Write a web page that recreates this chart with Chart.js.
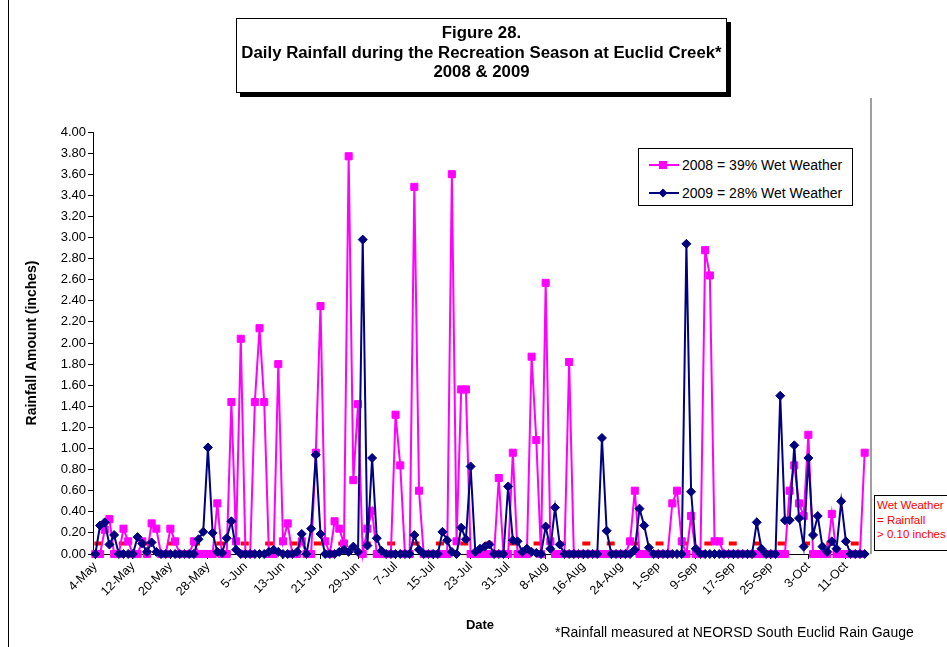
<!DOCTYPE html>
<html>
<head>
<meta charset="utf-8">
<title>Figure 28 - Daily Rainfall, Euclid Creek</title>
<script src="https://cdn.jsdelivr.net/npm/chart.js@4.4.0/dist/chart.umd.min.js"></script>
<style>
  body { margin: 0; background: #fff; font-family: "Liberation Sans", Arial, sans-serif; }
  #wrap { position: relative; width: 947px; height: 647px; overflow: hidden; }
  #frame { position: absolute; left: 8px; top: 0; width: 0; height: 647px; border-left: 1px solid #000; }
  #titleBox {
    position: absolute; left: 236px; top: 18px; width: 489px; height: 69px;
    border: 1px solid #000; box-shadow: 4px 4px 0 #000; background: #fff;
    font-weight: bold; font-size: 16.8px; line-height: 19.5px; text-align: center;
    padding-top: 4px; box-sizing: content-box; white-space: nowrap;
  }
  #legendBox {
    position: absolute; left: 638px; top: 148px; width: 213px; height: 56px;
    border: 1px solid #000; background: #fff; font-size: 14px;
  }
  .legRow { position: absolute; left: 10px; height: 16px; line-height: 16px; white-space: nowrap; }
  .legRow svg { vertical-align: top; }
  .legRow span { position: absolute; left: 33px; top: 0; }
  #noteBox {
    position: absolute; left: 874px; top: 495px; width: 90px; height: 56px;
    border: 1px solid #000; background: #fff; color: #FF0000;
    font-size: 11.5px; line-height: 14.5px; padding: 2px 0 0 2px; box-sizing: border-box;
  }
  #footnote { position: absolute; left: 555px; top: 624px; font-size: 14px; line-height: 17px; white-space: nowrap; }
</style>
</head>
<body>
<div id="wrap">
  <canvas id="rainChart" width="947" height="647"></canvas>
  <div id="frame"></div>
  <div id="titleBox">Figure 28.<br>Daily Rainfall during the Recreation Season at Euclid Creek*<br>2008 &amp; 2009</div>
  <div id="legendBox">
    <div class="legRow" style="top:8px">
      <svg width="30" height="16"><line x1="0" y1="8" x2="30" y2="8" stroke="#FF00FF" stroke-width="2"/><rect x="10" y="4" width="8" height="8" fill="#FF00FF"/></svg>
      <span>2008 = 39% Wet Weather</span>
    </div>
    <div class="legRow" style="top:36px">
      <svg width="30" height="16"><line x1="0" y1="8" x2="30" y2="8" stroke="#000080" stroke-width="2"/><polygon points="14,3.5 18.5,8 14,12.5 9.5,8" fill="#000080"/></svg>
      <span>2009 = 28% Wet Weather</span>
    </div>
  </div>
  <div id="noteBox">Wet Weather<br>= Rainfall<br>&gt; 0.10 inches</div>
  <div id="footnote">*Rainfall measured at NEORSD South Euclid Rain Gauge</div>
</div>

<script>
// ------------------------------------------
// Data (inches per day)
// ------------------------------------------

const dateLabels = [
  '4-May', '5-May', '6-May', '7-May', '8-May', '9-May', '10-May', '11-May', '12-May', '13-May',
  '14-May', '15-May', '16-May', '17-May', '18-May', '19-May', '20-May', '21-May', '22-May', '23-May',
  '24-May', '25-May', '26-May', '27-May', '28-May', '29-May', '30-May', '31-May',
  '1-Jun', '2-Jun', '3-Jun', '4-Jun', '5-Jun', '6-Jun', '7-Jun', '8-Jun', '9-Jun', '10-Jun',
  '11-Jun', '12-Jun', '13-Jun', '14-Jun', '15-Jun', '16-Jun', '17-Jun', '18-Jun', '19-Jun', '20-Jun',
  '21-Jun', '22-Jun', '23-Jun', '24-Jun', '25-Jun', '26-Jun', '27-Jun', '28-Jun', '29-Jun', '30-Jun',
  '1-Jul', '2-Jul', '3-Jul', '4-Jul', '5-Jul', '6-Jul', '7-Jul', '8-Jul', '9-Jul', '10-Jul',
  '11-Jul', '12-Jul', '13-Jul', '14-Jul', '15-Jul', '16-Jul', '17-Jul', '18-Jul', '19-Jul', '20-Jul',
  '21-Jul', '22-Jul', '23-Jul', '24-Jul', '25-Jul', '26-Jul', '27-Jul', '28-Jul', '29-Jul', '30-Jul', '31-Jul',
  '1-Aug', '2-Aug', '3-Aug', '4-Aug', '5-Aug', '6-Aug', '7-Aug', '8-Aug', '9-Aug', '10-Aug',
  '11-Aug', '12-Aug', '13-Aug', '14-Aug', '15-Aug', '16-Aug', '17-Aug', '18-Aug', '19-Aug', '20-Aug',
  '21-Aug', '22-Aug', '23-Aug', '24-Aug', '25-Aug', '26-Aug', '27-Aug', '28-Aug', '29-Aug', '30-Aug', '31-Aug',
  '1-Sep', '2-Sep', '3-Sep', '4-Sep', '5-Sep', '6-Sep', '7-Sep', '8-Sep', '9-Sep', '10-Sep',
  '11-Sep', '12-Sep', '13-Sep', '14-Sep', '15-Sep', '16-Sep', '17-Sep', '18-Sep', '19-Sep', '20-Sep',
  '21-Sep', '22-Sep', '23-Sep', '24-Sep', '25-Sep', '26-Sep', '27-Sep', '28-Sep', '29-Sep', '30-Sep',
  '1-Oct', '2-Oct', '3-Oct', '4-Oct', '5-Oct', '6-Oct', '7-Oct', '8-Oct', '9-Oct', '10-Oct',
  '11-Oct', '12-Oct', '13-Oct', '14-Oct', '15-Oct'
];

// only every 8th day carries a label on the date axis
const tickLabels = [
  '4-May', '12-May', '20-May', '28-May', '5-Jun', '13-Jun', '21-Jun', '29-Jun', '7-Jul', '15-Jul', '23-Jul',
  '31-Jul', '8-Aug', '16-Aug', '24-Aug', '1-Sep', '9-Sep', '17-Sep', '25-Sep', '3-Oct', '11-Oct'
];

const rain2008 = [
  0, 0, 0.23, 0.33, 0, 0, 0.24, 0.12, 0, 0,
  0.12, 0, 0.29, 0.24, 0, 0, 0.24, 0.12, 0, 0,
  0, 0.12, 0, 0, 0, 0, 0.48, 0, 0, 1.44,
  0.12, 2.04, 0, 0, 1.44, 2.14, 1.44, 0, 0, 1.80,
  0.12, 0.29, 0, 0, 0.12, 0, 0, 0.96, 2.35, 0.12,
  0, 0.31, 0.24, 0.10, 3.77, 0.70, 1.42, 0, 0.24, 0.41,
  0, 0, 0, 0, 1.32, 0.84, 0, 0, 3.48, 0.60,
  0, 0, 0, 0, 0, 0, 3.60, 0.12, 1.56, 1.56,
  0, 0, 0, 0, 0, 0, 0.72, 0, 0, 0.96,
  0, 0, 0, 1.87, 1.08, 0, 2.57, 0.12, 0, 0,
  0, 1.82, 0, 0, 0, 0, 0, 0, 0, 0,
  0, 0, 0, 0, 0.12, 0.60, 0, 0, 0, 0,
  0, 0, 0, 0.48, 0.60, 0.12, 0, 0.36, 0, 0,
  2.88, 2.64, 0.12, 0.12, 0, 0, 0, 0, 0, 0,
  0, 0, 0, 0, 0, 0, 0, 0, 0.60, 0.84,
  0.48, 0.36, 1.13, 0, 0, 0, 0, 0.38, 0, 0,
  0, 0, 0, 0, 0.96
];

const rain2009 = [
  0, 0.27, 0.30, 0.09, 0.18, 0, 0, 0, 0, 0.16,
  0.10, 0.02, 0.11, 0.02, 0, 0, 0, 0, 0, 0,
  0, 0, 0.14, 0.21, 1.01, 0.20, 0.02, 0.01, 0.15, 0.31,
  0.04, 0, 0, 0, 0, 0, 0, 0.02, 0.04, 0.02,
  0, 0, 0, 0.02, 0.19, 0, 0.24, 0.94, 0.19, 0,
  0, 0, 0.02, 0.04, 0.02, 0.07, 0.02, 2.98, 0.08, 0.91,
  0.15, 0.03, 0, 0, 0, 0, 0, 0, 0.18, 0.04,
  0, 0, 0, 0, 0.21, 0.13, 0.02, 0, 0.25, 0.14,
  0.83, 0.02, 0.05, 0.07, 0.09, 0, 0, 0, 0.64, 0.13,
  0.12, 0.02, 0.05, 0.02, 0.01, 0, 0.26, 0.05, 0.44, 0.09,
  0, 0, 0, 0, 0, 0, 0, 0, 1.10, 0.22,
  0, 0, 0, 0, 0, 0.04, 0.43, 0.27, 0.06, 0,
  0, 0, 0, 0, 0, 0, 2.94, 0.59, 0.05, 0,
  0, 0, 0, 0, 0, 0, 0, 0, 0, 0,
  0, 0.30, 0.05, 0, 0, 0, 1.50, 0.32, 0.32, 1.03,
  0.34, 0.07, 0.91, 0.18, 0.36, 0.07, 0.02, 0.12, 0.05, 0.50,
  0.12, 0, 0, 0, 0
];

// anything above this counts as a wet weather day
const WET_THRESHOLD = 0.10;

// ------------------------------------------
// Extra drawing: threshold dashes + right edge
// ------------------------------------------

const wetLinePlugin = {
  id: 'wetLine',
  beforeDatasetsDraw(chart) {
    const { ctx, chartArea, scales } = chart;
    const y = scales.y.getPixelForValue(WET_THRESHOLD);
    ctx.save();
    ctx.strokeStyle = '#FF0000';
    ctx.lineWidth = 4;
    ctx.setLineDash([8, 16.4]);
    ctx.beginPath();
    ctx.moveTo(scales.x.getPixelForValue(0) - 1, y);
    ctx.lineTo(chartArea.right - 2, y);
    ctx.stroke();
    ctx.restore();
  },
  afterDraw(chart) {
    const { ctx, chartArea } = chart;
    ctx.save();
    ctx.strokeStyle = '#A0A0A0';
    ctx.lineWidth = 2;
    ctx.beginPath();
    ctx.moveTo(chartArea.right + 4, 98);
    ctx.lineTo(chartArea.right + 4, chartArea.bottom);
    ctx.stroke();
    ctx.restore();
  }
};

const FONT = "'Liberation Sans', Arial, sans-serif";

new Chart(document.getElementById('rainChart'), {
  type: 'line',
  data: {
    labels: dateLabels,
    datasets: [
      {
        label: '2008 = 39% Wet Weather',
        data: rain2008,
        borderColor: '#FF00FF',
        backgroundColor: '#FF00FF',
        borderWidth: 2,
        pointStyle: 'rect',
        pointRadius: 5,
        pointBorderWidth: 1,
        tension: 0,
        clip: false,
        order: 2
      },
      {
        label: '2009 = 28% Wet Weather',
        data: rain2009,
        borderColor: '#000080',
        backgroundColor: '#000080',
        borderWidth: 2,
        pointStyle: 'rectRot',
        pointRadius: 4.5,
        pointBorderWidth: 1,
        tension: 0,
        clip: false,
        order: 1
      }
    ]
  },
  options: {
    responsive: false,
    animation: false,
    events: [],
    layout: { padding: { left: 20, right: 80, top: 132, bottom: 10 } },
    plugins: { legend: { display: false }, tooltip: { enabled: false } },
    scales: {
      x: {
        type: 'category',
        offset: true,
        afterFit: (scale) => { scale.height = 83; },
        border: { display: true, color: '#000', width: 1 },
        grid: {
          drawOnChartArea: false,
          drawTicks: true,
          tickLength: 5,
          color: (c) => (c.index % 8 === 0 ? '#000' : 'rgba(0,0,0,0)')
        },
        ticks: {
          autoSkip: false,
          minRotation: 45,
          maxRotation: 45,
          padding: 0,
          color: '#000',
          font: { family: FONT, size: 12.5 },
          callback: function (value) {
            const lbl = this.getLabelForValue(value);
            return tickLabels.includes(lbl) ? lbl : '';
          }
        },
        title: {
          display: true,
          text: 'Date',
          color: '#000',
          font: { family: FONT, size: 13, weight: 'bold' },
          padding: { top: 4, bottom: 4 }
        }
      },
      y: {
        min: 0,
        max: 4,
        afterFit: (scale) => { scale.width = 73; },
        border: { display: true, color: '#000', width: 1 },
        grid: { drawOnChartArea: false, drawTicks: true, tickLength: 5, color: '#000' },
        ticks: {
          stepSize: 0.2,
          autoSkip: false,
          padding: 2,
          color: '#000',
          font: { family: FONT, size: 13 },
          callback: (v) => Number(v).toFixed(2)
        },
        title: {
          display: true,
          text: 'Rainfall Amount (inches)',
          color: '#000',
          font: { family: FONT, size: 14, weight: 'bold' },
          padding: { top: 4, bottom: 4 }
        }
      }
    }
  },
  plugins: [wetLinePlugin]
});
</script>
</body>
</html>
